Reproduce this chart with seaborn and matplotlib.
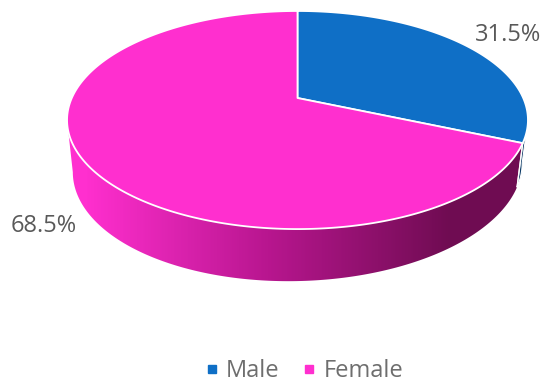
import numpy as np
import matplotlib
matplotlib.use("Agg")
import matplotlib.pyplot as plt
from matplotlib.lines import Line2D
from matplotlib.patches import Polygon
import seaborn as sns

# data
labels = ["Male", "Female"]
values = [31.5, 68.5]
top_colors = ["#0F6FC6", "#FF2FCF"]
side_colors = ["#0B3A66", "#FF2FCF"]
pct_labels = ["31.5%", "68.5%"]

sns.set_theme(style="white")
plt.rcParams["font.family"] = ["Open Sans", "DejaVu Sans"]

# perspective of the pie, pixels of the picture
APEX_X, APEX_Y = 297.5, 98
SX, SY, K = 225.7, 104.6, 0.202
DEPTH, SHRINK_X, SHRINK_Y, SKEW = 46.5, 0.975, 1.042, -0.02


def rim(t, drop=False):
    # t in degrees, clockwise from the top of the disc
    r = np.radians(t)
    w = 1 + K * np.cos(r)
    x = SX * np.sin(r) / w
    y = -SY * np.cos(r) / w
    if drop:
        return APEX_X + x * SHRINK_X, APEX_Y + y * SHRINK_Y + DEPTH + SKEW * x
    return APEX_X + x, APEX_Y + y


def wall(t0, t1):
    ts = np.linspace(t0, t1, 200)
    x0, y0 = rim(ts)
    x1, y1 = rim(ts, drop=True)
    return np.c_[np.r_[x0, x1[::-1]], np.r_[y0, y1[::-1]]]


fig, ax = plt.subplots(figsize=(5.5, 3.85), dpi=100)
fig.subplots_adjust(0, 0, 1, 1)

# angle range of each slice
ends = np.cumsum(values) / sum(values) * 360
starts = np.concatenate([[0], ends[:-1]])

# side wall of Female, colour follows x
ramp = sns.blend_palette([side_colors[1], "#B8168F", "#6F0C52"], as_cmap=True)
shell = Polygon(wall(starts[1], 258.3), transform=ax.transData, fc="none", ec="none")
ax.add_patch(shell)
grad = np.clip((np.arange(550) - 85) / (450 - 85), 0, 1)
img = ax.imshow(grad[None, :], cmap=ramp, aspect="auto", extent=(0, 550, 385, 0), zorder=1)
img.set_clip_path(shell)

# small visible side wall of Male
ax.add_patch(Polygon(wall(101.7, starts[1]), fc=side_colors[0], ec="white", lw=0.8, zorder=2))
x0, y0 = rim(np.array([starts[1]]))
x1, y1 = rim(np.array([starts[1]]), drop=True)
ax.plot([x0[0], x1[0]], [y0[0], y1[0]], color="white", lw=1.0, zorder=3)

# top faces
for s, e, col in zip(starts, ends, top_colors):
    x, y = rim(np.linspace(s, e, 300))
    ax.fill(np.r_[APEX_X, x], np.r_[APEX_Y, y], fc=col, ec="white", lw=1.3,
            joinstyle="round", zorder=4)

ax.text(508, 35, pct_labels[0], color="#595959", fontsize=17, ha="center", va="center")
ax.text(44, 226, pct_labels[1], color="#595959", fontsize=17, ha="center", va="center")

handles = [Line2D([], [], ls="", marker="s", ms=6, color=c) for c in top_colors]
ax.legend(handles, labels, loc="center", bbox_to_anchor=(301.5 / 550, 1 - 371 / 385),
          ncols=2, frameon=False, fontsize=17, labelcolor="#6E6E6E",
          handletextpad=0.1, columnspacing=0.77, handlelength=1.0)

ax.set_xlim(0, 550)
ax.set_ylim(385, 0)
ax.axis("off")

plt.savefig("out.png", dpi=100)
plt.close()
